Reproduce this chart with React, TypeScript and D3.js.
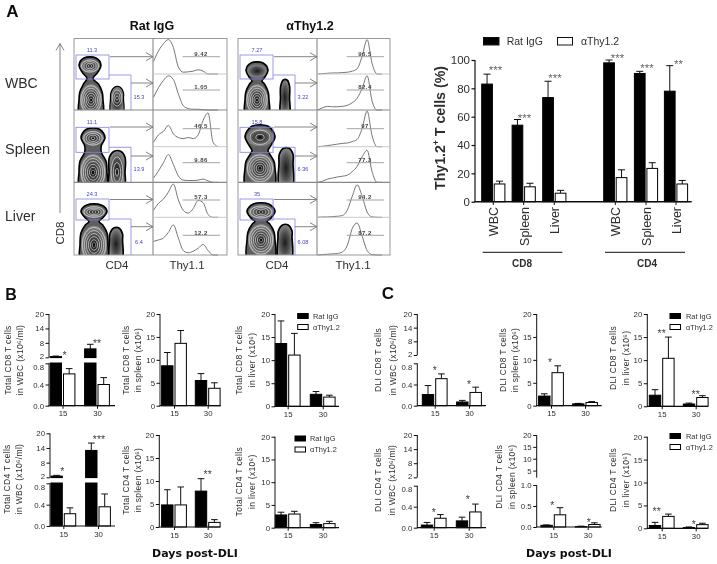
import React, { useEffect, useRef } from "react";
import * as d3 from "d3";

const FONT = "'Liberation Sans', Arial, sans-serif";
const INK = "#2e2e2e";

// ---------- data: panel A histograms (fraction of cell height, evenly spaced channels)
const histLeft = [
  [0.35, 0.65, 0.85, 0.97, 0.75, 0.2, 0.05, 0.06, 0.08, 0.12, 0.08, 0, 0, 0],
  [0.35, 0.62, 0.82, 0.95, 0.85, 0.45, 0.12, 0.04, 0.02, 0.02, 0.01, 0, 0, 0],
  [0.12, 0.32, 0.42, 0.58, 0.35, 0.25, 0.22, 0.25, 0.22, 0.32, 0.72, 0.92, 0.12, 0],
  [0.12, 0.32, 0.55, 0.78, 0.5, 0.18, 0.06, 0.05, 0.05, 0.06, 0.09, 0.04, 0, 0],
  [0.2, 0.4, 0.52, 0.72, 0.95, 0.5, 0.2, 0.12, 0.25, 0.48, 0.42, 0.08, 0, 0],
  [0.36, 0.4, 0.45, 0.6, 0.8, 0.45, 0.12, 0.06, 0.1, 0.18, 0.28, 0.12, 0, 0],
];
const histRight = [
  [0, 0.01, 0.02, 0.03, 0.03, 0.04, 0.05, 0.08, 0.15, 0.5, 0.97, 0.3, 0, 0],
  [0, 0.06, 0.1, 0.09, 0.09, 0.1, 0.13, 0.2, 0.33, 0.6, 0.95, 0.25, 0, 0],
  [0, 0.01, 0.03, 0.05, 0.07, 0.09, 0.1, 0.14, 0.2, 0.5, 0.97, 0.3, 0, 0],
  [0, 0.03, 0.09, 0.12, 0.15, 0.17, 0.2, 0.3, 0.45, 0.72, 0.9, 0.3, 0, 0],
  [0, 0.01, 0.01, 0.02, 0.03, 0.05, 0.2, 0.6, 0.93, 0.6, 0.15, 0.01, 0, 0],
  [0, 0.01, 0.02, 0.03, 0.04, 0.08, 0.25, 0.7, 0.85, 0.5, 0.12, 0.01, 0, 0],
];
const histLeftLabels = ["9.42", "1.05", "46.5", "9.86", "57.3", "12.2"];
const histRightLabels = ["96.5", "82.4", "97", "77.3", "94.2", "87.2"];
const gateLeftLabels = [["11.3", "15.3"], ["11.1", "13.9"], ["24.3", "6.4"]];
const gateRightLabels = [["7.27", "3.22"], ["15.8", "6.36"], ["35", "6.08"]];

// flow contour blobs, in plot channels: [cx, cy, rx, ry or top]
const blobTop = [
  [16, 44, 11, 8], [19, 44, 12, 9], [20, 43, 13, 7],
  [19, 39, 11, 8], [22, 45, 15, 11], [23, 43, 14, 8],
];
const blobNeck = [3, 8, 5, 5, 8, 6];
const blobBottom = [
  [17, 10, 12, 27], [19, 10, 14, 30], [20, 10, 14, 31],
  [19, 10, 12, 27], [22, 14, 15, 30], [23, 15, 14, 32],
];
const blobCd4 = [
  [43, 12, 6.5, 23], [43, 10, 8, 31], [42, 15, 6.5, 27],
  [47, 12, 4.5, 30], [48, 19, 7, 34], [47, 18, 7, 30],
];
const cd4Rings = [3, 3, 0, 0, 0, 0];
const topRings = [4, 4, 4, 0, 2, 4];
const gateCd8Y = [[31, 55], [30, 55], [35, 56]];
const gateCd4Top = [35, 35, 36];

// ---------- data: panel A bars
const aCats = ["WBC", "Spleen", "Liver", "WBC ", "Spleen ", "Liver "];
const aRat = [83, 54, 73.5, 98, 90.5, 78];
const aRatTop = [90, 58, 85, 100, 92, 96];
const aThy = [12.5, 10.5, 6, 17, 23.5, 12.5];
const aThyTop = [14.5, 13, 8, 22.5, 27.5, 15];
const aTicks = [0, 20, 40, 60, 80, 100];

// ---------- data: panels B, C bars [day 15, day 30]
const days = ["15", "30"];
const b1 = { rat: [2.3, 5.5], ratTop: [2.5, 7.4], thy: [0.6, 0.4], thyTop: [0.7, 0.53] };
const b2 = { rat: [8.7, 5.5], ratTop: [11.6, 7], thy: [13.6, 3.8], thyTop: [16.4, 5] };
const b3 = { rat: [13.6, 2.6], ratTop: [18.5, 3.2], thy: [11.1, 2.0], thyTop: [15.8, 2.4] };
const b4 = { rat: [2.5, 13], ratTop: [2.8, 16], thy: [0.23, 0.36], thyTop: [0.34, 0.6] };
const b5 = { rat: [4.8, 7.8], ratTop: [8.1, 10.5], thy: [4.8, 1.0], thyTop: [8.7, 1.6] };
const b6 = { rat: [2.8, 0.7], ratTop: [3.4, 1.1], thy: [3.0, 0.9], thyTop: [3.6, 1.4] };
const c1 = { rat: [0.21, 0.07], ratTop: [0.38, 0.1], thy: [0.51, 0.25], thyTop: [0.6, 0.35] };
const c2 = { rat: [2.1, 0.4], ratTop: [2.6, 0.5], thy: [7.2, 0.7], thyTop: [8.7, 0.9] };
const c3 = { rat: [2.4, 0.5], ratTop: [3.6, 0.7], thy: [10.4, 1.9], thyTop: [15, 2.3] };
const c4 = { rat: [0.05, 0.13], ratTop: [0.1, 0.2], thy: [0.18, 0.3], thyTop: [0.25, 0.45] };
const c5 = { rat: [0.04, 0.01], ratTop: [0.05, 0.02], thy: [0.29, 0.06], thyTop: [0.46, 0.1] };
const c6 = { rat: [0.6, 0.15], ratTop: [1.3, 0.3], thy: [2.6, 0.8], thyTop: [3.1, 1.1] };

const tick20 = [0, 5, 10, 15, 20];
const tickBrokenLow = [0, 0.4, 0.8];
const tickBrokenHigh = [2, 8, 14, 20];

// ---------- layouts (pixels)
const P = (o: any) => o;
const panels = [
  P({ d: b1, x0: 49, xEnd: 115, cs: [62.5, 97], y0: 405.7, yTop: 314, brk: [0.8, 363.3, 2, 357.3], low: tickBrokenLow, high: tickBrokenHigh, l1: "Total CD8 T cells", l2: "in WBC (x10⁶/ml)", lx: [7.5, 19.5], ly: 360, stars: [["*", 0, 2, 353], ["**", 1, 0, 341]] }),
  P({ d: b2, x0: 160, xEnd: 220.7, cs: [174, 207.7], y0: 405.7, yTop: 314, high: tick20, l1: "Total CD8 T cells", l2: "in spleen (x10⁶)", lx: [126, 138.3], ly: 360, stars: [] }),
  P({ d: b3, x0: 275, xEnd: 339, cs: [287.7, 322.7], y0: 406.3, yTop: 314, high: tick20, l1: "Total CD8 T cells", l2: "in liver (x10⁶)", lx: [239.3, 251.7], ly: 360, stars: [], leg: [297.7, 313.5, 313] }),
  P({ d: b4, x0: 50, xEnd: 115, cs: [63.3, 98], y0: 526, yTop: 433.3, brk: [0.8, 483.3, 2, 477.3], low: tickBrokenLow, high: tickBrokenHigh, l1: "Total CD4 T cells", l2: "in WBC (x10⁶/ml)", lx: [7.3, 19.3], ly: 479, stars: [["*", 0, -1, 469], ["***", 1, 1, 437]] }),
  P({ d: b5, x0: 159.3, xEnd: 220, cs: [174, 207.7], y0: 527, yTop: 435, high: tick20, l1: "Total CD4 T cells", l2: "in spleen (x10⁶)", lx: [126, 138.3], ly: 480, stars: [["**", 1, 0, 472]] }),
  P({ d: b6, x0: 275, xEnd: 339, cs: [287.7, 322.7], y0: 527.7, yTop: 436.7, high: tick20, l1: "Total CD4 T cells", l2: "in liver (x10⁶)", lx: [239.3, 251.7], ly: 481.7, stars: [], leg: [295, 436, 310] }),
  P({ d: c1, x0: 417.3, xEnd: 486, cs: [434.7, 469], y0: 405.7, yTop: 314, brk: [0.8, 363.3, 2, 355], low: tickBrokenLow, high: tickBrokenHigh, l1: "DLI CD8 T cells", l2: "in WBC (x10⁶/ml)", lx: [378.3, 393.3], ly: 360, stars: [["*", 0, 0, 368], ["*", 1, 0, 382]] }),
  P({ d: c2, x0: 536.7, xEnd: 601.7, cs: [551, 585], y0: 405.7, yTop: 314, high: tick20, l1: "DLI CD8 T cells", l2: "in spleen (x10⁶)", lx: [502.7, 515], ly: 360, stars: [["*", 0, -1, 360]] }),
  P({ d: c3, x0: 647.3, xEnd: 708, cs: [661.7, 695.7], y0: 406.3, yTop: 314, high: tick20, l1: "DLI CD8 T cells", l2: "in liver (x10⁶)", lx: [613.3, 625.7], ly: 358, stars: [["**", 0, 0, 331], ["**", 1, 0, 392]], leg: [670, 313.5, 686] }),
  P({ d: c4, x0: 417.3, xEnd: 486, cs: [433.7, 468.7], y0: 527.7, yTop: 435, brk: [0.8, 485.7, 2, 477.3], low: tickBrokenLow, high: tickBrokenHigh, l1: "DLI CD4 T cells", l2: "in WBC (x10⁶/ml)", lx: [378.3, 392], ly: 480, stars: [["*", 0, 0, 510], ["*", 1, -1, 497]] }),
  P({ d: c5, x0: 536.7, xEnd: 601.7, cs: [553.3, 587.7], y0: 527, yTop: 435, brk: [1, 485, 2, 477.7], low: [0, 0.5, 1], high: [5, 10, 15, 20], l1: "DLI CD4 T cells", l2: "in spleen (x10⁶)", lx: [499.3, 511.7], ly: 476.7, stars: [["*", 0, -1, 503], ["*", 1, 1, 520]] }),
  P({ d: c6, x0: 647.3, xEnd: 708, cs: [661.7, 695.7], y0: 528.3, yTop: 436.7, high: tick20, l1: "DLI CD4 T cells", l2: "in liver (x10⁶)", lx: [613.3, 625.7], ly: 480, stars: [["**", 0, -5, 509], ["*", 1, -2, 522]], leg: [670, 433.5, 686] }),
];

const BAR_W = 11.4;
const TICK_FS = 7.8;

function Star({ x, y, s, size = 10.5, color = "#444" }: any) {
  return (
    <text x={x} y={y + size * 0.57} textAnchor="middle" fontSize={size} fill={color} fontFamily={FONT}>
      {s}
    </text>
  );
}

function AxisLeft({ scale, ticks, fmt, size, color = INK, sw = 1, nudge = 0 }: any) {
  const ref = useRef<SVGGElement>(null);
  useEffect(() => {
    const g = d3.select(ref.current!);
    g.call(d3.axisLeft(scale).tickValues(ticks).tickSize(3.5).tickPadding(1.5).tickFormat((v: any) => (fmt ? d3.format(fmt)(v) : String(v))) as any);
    g.select(".domain").remove();
    g.selectAll("line").attr("stroke", "#111").attr("stroke-width", sw);
    g.selectAll("text").attr("font-size", size).attr("font-family", FONT).attr("fill", color);
    if (nudge) {
      // the two labels at an axis break sit very close: spread them a little
      g.selectAll<SVGTextElement, number>("text")
        .filter((_, i) => (nudge < 0 ? i === 0 : i === ticks.length - 1))
        .attr("y", nudge);
    }
  }, []);
  return <g ref={ref} />;
}

function AxisBottom({ scale, y, size }: any) {
  const ref = useRef<SVGGElement>(null);
  useEffect(() => {
    const g = d3.select(ref.current!);
    g.attr("transform", `translate(0,${y})`);
    g.call(d3.axisBottom(scale).tickSize(3).tickPadding(2) as any);
    g.select(".domain").remove();
    g.selectAll("line").attr("stroke", "#111");
    g.selectAll("text").attr("font-size", size).attr("font-family", FONT).attr("fill", INK);
  }, []);
  return <g ref={ref} />;
}

function BarPanel({ p }: any) {
  const broken = !!p.brk;
  const y = broken
    ? d3.scaleLinear().domain([0, p.brk[0], p.brk[2], 20]).range([p.y0, p.brk[1], p.brk[3], p.yTop])
    : d3.scaleLinear().domain([0, 20]).range([p.y0, p.yTop]);
  const x = d3.scalePoint().domain(days).range(p.cs);
  const W = BAR_W;
  const bars = days.flatMap((day, i) => [
    { cx: (x(day) as number) - W / 2 - 1, v: p.d.rat[i], top: p.d.ratTop[i], fill: "#000" },
    { cx: (x(day) as number) + W / 2 + 1, v: p.d.thy[i], top: p.d.thyTop[i], fill: "#fff" },
  ]);
  const labelProps: any = { textAnchor: "middle", dominantBaseline: "central", fontSize: 8.5, letterSpacing: 0.32, fill: INK, fontFamily: FONT };
  return (
    <g>
      <text transform={`translate(${p.lx[0]},${p.ly}) rotate(-90)`} {...labelProps}>{p.l1}</text>
      <text transform={`translate(${p.lx[1]},${p.ly}) rotate(-90)`} {...labelProps}>{p.l2}</text>
      {bars.map((b, i) => (
        <g key={i}>
          <line x1={b.cx} x2={b.cx} y1={y(b.v)} y2={y(b.top)} stroke="#111" strokeWidth={1} />
          <line x1={b.cx - 3.3} x2={b.cx + 3.3} y1={y(b.top)} y2={y(b.top)} stroke="#111" strokeWidth={1} />
          <rect x={b.cx - W / 2} width={W} y={y(b.v)} height={Math.max(0.5, p.y0 - y(b.v))} fill={b.fill} stroke="#000" strokeWidth={1} />
        </g>
      ))}
      {broken && <rect x={p.x0 - 1} width={p.xEnd - p.x0 + 2} y={p.brk[3] + 0.8} height={p.brk[1] - p.brk[3] - 1.6} fill="#fff" />}
      {broken ? (
        <g>
          <line x1={p.x0} x2={p.x0} y1={p.y0} y2={y(p.brk[0])} stroke="#111" />
          <line x1={p.x0} x2={p.x0} y1={y(p.brk[2])} y2={p.yTop} stroke="#111" />
          <g transform={`translate(${p.x0},0)`}>
            <AxisLeft scale={y} ticks={p.low} fmt={".1f"} size={TICK_FS} nudge={p.high[0] === 2 ? 3.4 : 0} />
            <AxisLeft scale={y} ticks={p.high} size={TICK_FS} nudge={p.high[0] === 2 ? -1.4 : 0} />
          </g>
        </g>
      ) : (
        <g>
          <line x1={p.x0} x2={p.x0} y1={p.y0} y2={p.yTop} stroke="#111" />
          <g transform={`translate(${p.x0},0)`}>
            <AxisLeft scale={y} ticks={p.high} size={TICK_FS} />
          </g>
        </g>
      )}
      <line x1={p.x0 - 0.5} x2={p.xEnd} y1={p.y0} y2={p.y0} stroke="#111" strokeWidth={1.2} />
      <AxisBottom scale={x} y={p.y0} size={TICK_FS} />
      {p.stars.map((s: any, i: number) => (
        <Star key={i} s={s[0]} x={(x(days[s[1]]) as number) + s[2]} y={s[3]} />
      ))}
      {p.leg && (
        <g>
          <rect x={p.leg[0]} y={p.leg[1]} width={10.5} height={5} fill="#000" stroke="#000" />
          <rect x={p.leg[0]} y={p.leg[1] + 11} width={10.5} height={5} fill="#fff" stroke="#000" />
          <text x={p.leg[2]} y={p.leg[1] + 2.5} dominantBaseline="central" fontSize={7.4} fill={INK} fontFamily={FONT}>Rat IgG</text>
          <text x={p.leg[2]} y={p.leg[1] + 13.5} dominantBaseline="central" fontSize={7.4} fill={INK} fontFamily={FONT}>αThy1.2</text>
        </g>
      )}
    </g>
  );
}

function BarsA() {
  const y = d3.scaleLinear().domain([0, 100]).range([201.7, 60]);
  const x = d3.scaleOrdinal<string, number>().domain(aCats).range([493.3, 523.7, 554.3, 615.3, 646, 676]);
  const W = 10.7;
  return (
    <g>
      <text transform="translate(440,128) rotate(-90)" textAnchor="middle" dominantBaseline="central" fontSize={14.2} fontWeight={700} fill={INK} fontFamily={FONT}>
        Thy1.2<tspan dy={-4} fontSize={8.5}>+</tspan><tspan dy={4}> T cells (%)</tspan>
      </text>
      {aCats.map((c, i) => {
        const cx = x(c);
        const bx1 = cx - W / 2 - 0.9;
        const bx2 = cx + W / 2 + 0.9;
        return (
          <g key={c}>
            <line x1={bx1} x2={bx1} y1={y(aRat[i])} y2={y(aRatTop[i])} stroke="#111" />
            <line x1={bx1 - 3.5} x2={bx1 + 3.5} y1={y(aRatTop[i])} y2={y(aRatTop[i])} stroke="#111" />
            <rect x={bx1 - W / 2} width={W} y={y(aRat[i])} height={y(0) - y(aRat[i])} fill="#000" stroke="#000" />
            <line x1={bx2} x2={bx2} y1={y(aThy[i])} y2={y(aThyTop[i])} stroke="#111" />
            <line x1={bx2 - 3.5} x2={bx2 + 3.5} y1={y(aThyTop[i])} y2={y(aThyTop[i])} stroke="#111" />
            <rect x={bx2 - W / 2} width={W} y={y(aThy[i])} height={y(0) - y(aThy[i])} fill="#fff" stroke="#000" />
            <text transform={`translate(${cx + 1},207) rotate(-90)`} textAnchor="end" dominantBaseline="central" fontSize={12.5} fill={INK} fontFamily={FONT}>{c.trim()}</text>
            <line x1={cx} x2={cx} y1={201.7} y2={205} stroke="#111" />
          </g>
        );
      })}
      {[["***", 495.5, 67.5], ["***", 524.5, 115], ["***", 555, 75], ["***", 617.5, 55], ["***", 647, 65.5], ["**", 678.5, 61]].map((s: any, i) => (
        <Star key={i} s={s[0]} x={s[1]} y={s[2]} size={11.5} color="#666" />
      ))}
      <line x1={475} x2={475} y1={201.7} y2={60} stroke="#111" strokeWidth={1.2} />
      <g transform="translate(475,0)">
        <AxisLeft scale={y} ticks={aTicks} size={11.5} sw={1.2} />
      </g>
      <line x1={474.4} x2={691.7} y1={201.7} y2={201.7} stroke="#111" strokeWidth={1.4} />
      <line x1={482.7} x2={562.3} y1={252.3} y2={252.3} stroke="#111" />
      <line x1={605} x2={685} y1={252.3} y2={252.3} stroke="#111" />
      <text x={522} y={263} textAnchor="middle" dominantBaseline="central" fontSize={10} fontWeight={700} fill={INK} fontFamily={FONT}>CD8</text>
      <text x={647} y={263} textAnchor="middle" dominantBaseline="central" fontSize={10} fontWeight={700} fill={INK} fontFamily={FONT}>CD4</text>
      <rect x={483.5} y={37.5} width={15.5} height={7.5} fill="#000" stroke="#111" />
      <text x={506.7} y={41.3} dominantBaseline="central" fontSize={10.5} fill={INK} fontFamily={FONT}>Rat IgG</text>
      <rect x={557.5} y={37.5} width={15} height={7.5} fill="#fff" stroke="#111" />
      <text x={581} y={41.3} dominantBaseline="central" fontSize={10.5} fill={INK} fontFamily={FONT}>αThy1.2</text>
    </g>
  );
}

function Arrow({ x1, x2, y1, y2 }: any) {
  const horiz = y1 === y2;
  return (
    <g stroke="#777" strokeWidth={0.9} fill="none">
      <line x1={x1} x2={x2} y1={y1} y2={y2} />
      {horiz ? (
        <path d={`M${x2 - 7},${y2 - 4}L${x2},${y2}L${x2 - 7},${y2 + 4}`} />
      ) : (
        <path d={`M${x2 - 4},${y2 + 7}L${x2},${y2}L${x2 + 4},${y2 + 7}`} />
      )}
    </g>
  );
}

function Rings({ x, y, cx, cy, rx, ry, n }: any) {
  const ks = d3.range(n).map((i) => 1 - (i + 0.6) / (n + 0.3));
  return (
    <g>
      {ks.map((k, i) => (
        <ellipse key={i} cx={x(cx)} cy={y(cy)} rx={rx * k} ry={ry * k} fill="none" stroke="#e8e8e8" strokeWidth={0.65} />
      ))}
      <ellipse cx={x(cx)} cy={y(cy)} rx={rx * 0.1} ry={ry * 0.1} fill="#111" />
    </g>
  );
}

function FlowBlock({ side }: { side: number }) {
  const blockX = side === 0 ? 74 : 238;
  const divX = side === 0 ? 153 : 317;
  const endX = side === 0 ? 227 : 390;
  const rowEdges = [38.5, 110, 182.3, 255];
  const histEdges = [38.5, 74, 110, 146.7, 182.3, 217.3, 255];
  const lineY = [56.7, 90, 128.7, 162.7, 200, 235.3];
  const arrowY = [56.7, 83, 127, 156, 199.5, 226.7];
  const hists = side === 0 ? histLeft : histRight;
  const histLabels = side === 0 ? histLeftLabels : histRightLabels;
  const gLabels = side === 0 ? gateLeftLabels : gateRightLabels;
  const ch = d3.range(14);
  return (
    <g>
      {[0, 1, 2].map((r) => {
        const b = r + side * 3;
        const x = d3.scaleLinear().domain([0, 80]).range([blockX, blockX + 80]);
        const y = d3.scaleLinear().domain([0, 72]).range([rowEdges[r + 1], rowEdges[r + 1] - 72]);
        const [tcx, tcy, trx, trY] = blobTop[b];
        const [bcx, bcy, brx, btop] = blobBottom[b];
        const [ccx, ccy, crx, ctop] = blobCd4[b];
        const neckY = (btop + (tcy - trY)) / 2;
        const nk = blobNeck[b];
        const sil: [number, number][] = [
          [bcx - brx * 0.95, -4], [bcx - brx, bcy], [bcx - brx * 0.93, btop - 9], [bcx - brx * 0.62, btop - 1],
          [tcx - nk, neckY], [tcx - trx * 0.7, tcy - trY * 0.8], [tcx - trx, tcy + 1], [tcx - trx * 0.55, tcy + trY], [tcx + trx * 0.55, tcy + trY], [tcx + trx, tcy + 1], [tcx + trx * 0.7, tcy - trY * 0.8],
          [tcx + nk, neckY], [bcx + brx * 0.62, btop - 1], [bcx + brx * 0.93, btop - 9], [bcx + brx, bcy], [bcx + brx * 0.95, -4],
        ];
        const silPath = d3.line<[number, number]>().x((d) => x(d[0])).y((d) => y(d[1])).curve(d3.curveCatmullRomClosed.alpha(0.5))(sil) as string;
        const cd4: [number, number][] = [
          [ccx - crx * 0.9, -4], [ccx - crx, ccy], [ccx - crx * 0.95, ctop - 6], [ccx - crx * 0.35, ctop], [ccx + crx * 0.45, ctop], [ccx + crx, ctop - 6], [ccx + crx, ccy], [ccx + crx * 0.9, -4],
        ];
        const cd4Path = d3.line<[number, number]>().x((d) => x(d[0])).y((d) => y(d[1])).curve(d3.curveCatmullRomClosed.alpha(0.5))(cd4) as string;
        const cid = `clip${b}`;
        const cd8Gate = gateCd8Y[r];
        return (
          <g key={r}>
            <clipPath id={cid}><rect x={blockX} y={rowEdges[r]} width={divX - blockX} height={rowEdges[r + 1] - rowEdges[r]} /></clipPath>
            <g clipPath={`url(#${cid})`}>
              <path d={silPath} fill="#5e5e5e" stroke="#000" strokeWidth={1.6} />
              <ellipse cx={x(tcx)} cy={y(tcy)} rx={trx * 0.88} ry={trY * 0.82} fill="url(#dark)" />
              <ellipse cx={x(bcx)} cy={y(bcy)} rx={brx * 0.92} ry={(btop - bcy) * 0.92} fill="url(#dark)" />
              <Rings x={x} y={y} cx={bcx} cy={bcy} rx={brx * 0.93} ry={(btop - bcy) * 0.93} n={6} />
              {topRings[b] > 0 && <Rings x={x} y={y} cx={tcx} cy={tcy} rx={trx * 0.9} ry={trY * 0.88} n={topRings[b]} />}
              <path d={cd4Path} fill="url(#dark)" stroke="#000" strokeWidth={side === 0 && r === 0 ? 1.2 : 1.7} />
              {cd4Rings[b] > 0 && <Rings x={x} y={y} cx={ccx} cy={ccy} rx={crx * 0.9} ry={(ctop - ccy) * 0.9} n={cd4Rings[b]} />}
            </g>
            <rect x={x(2)} width={x(35) - x(2)} y={y(cd8Gate[1])} height={y(cd8Gate[0]) - y(cd8Gate[1])} fill="none" stroke="#8080e4" strokeWidth={0.8} />
            <path d={`M${x(35)},${y(gateCd4Top[r])}H${x(57)}V${y(0)}`} fill="none" stroke="#8080e4" strokeWidth={0.8} />
            <text x={x(side === 0 ? 18 : 19)} y={y(cd8Gate[1] + 3.5)} textAnchor="middle" fontSize={5.6} fill="#4646c8" fontFamily={FONT}>{gLabels[r][0]}</text>
            <text x={x(65)} y={y(13.5)} textAnchor="middle" dominantBaseline="central" fontSize={5.6} fill="#4646c8" fontFamily={FONT}>{gLabels[r][1]}</text>
          </g>
        );
      })}
      {histEdges.slice(0, -1).map((top, i) => {
        const bottom = histEdges[i + 1];
        const x = d3.scaleLinear().domain([0, 13]).range([divX + 0.5, divX + 65]);
        const y = d3.scaleLinear().domain([0, 1]).range([bottom, top]);
        const path = d3.line<number>().x((_, k) => x(ch[k])).y((v) => y(v)).curve(d3.curveMonotoneX)(hists[i]) as string;
        return (
          <g key={i}>
            <path d={path} fill="none" stroke="#666" strokeWidth={0.9} />
            <line x1={divX + 29.7} x2={divX + 67} y1={lineY[i]} y2={lineY[i]} stroke="#999" strokeWidth={0.9} />
            <text x={divX + 48} y={lineY[i] - 0.6} textAnchor="middle" fontSize={6} letterSpacing={0.45} fontWeight={700} fill="#444" fontFamily={FONT}>{histLabels[i]}</text>
          </g>
        );
      })}
      <rect x={blockX} y={38.5} width={endX - blockX} height={216.5} fill="none" stroke="#999" strokeWidth={1} />
      <line x1={divX} x2={divX} y1={38.5} y2={255} stroke="#888" strokeWidth={1.1} />
      {[110, 182.3].map((v) => (<line key={v} x1={blockX} x2={endX} y1={v} y2={v} stroke="#888" strokeWidth={1.2} />))}
      {[74, 146.7, 217.3].map((v) => (<line key={v} x1={divX} x2={endX} y1={v} y2={v} stroke="#c4c4c4" strokeWidth={0.9} />))}
      {[0, 1, 2].map((r) => (
        <g key={r}>
          <Arrow x1={blockX + 36} x2={divX} y1={arrowY[r * 2]} y2={arrowY[r * 2]} />
          <Arrow x1={blockX + 57} x2={divX} y1={arrowY[r * 2 + 1]} y2={arrowY[r * 2 + 1]} />
        </g>
      ))}
    </g>
  );
}

function Txt({ x, y, s, size, weight = 400, anchor = "middle", family = FONT, rotate = 0, fill = INK }: any) {
  return (
    <text transform={`translate(${x},${y}) rotate(${rotate})`} textAnchor={anchor} dominantBaseline="central" fontSize={size} fontWeight={weight} fill={fill} fontFamily={family}>
      {s}
    </text>
  );
}

export default function App() {
  return (
    <svg width={717} height={564} viewBox="0 0 717 564" style={{ position: "absolute", left: 0, top: 0, display: "block", background: "#fff" }}>
      <defs>
        <filter id="soft" x="0" y="0" width="100%" height="100%">
          <feGaussianBlur stdDeviation="0.3" />
        </filter>
        <radialGradient id="dark">
          <stop offset="0%" stopColor="#1c1c1c" />
          <stop offset="55%" stopColor="#505050" />
          <stop offset="100%" stopColor="#8c8c8c" />
        </radialGradient>
      </defs>
      <rect width={717} height={564} fill="#fff" />
      <g filter="url(#soft)">
        <Txt x={12.5} y={11} s="A" size={17} weight={700} fill="#111" />
        <Txt x={11} y={294} s="B" size={16} weight={700} fill="#111" />
        <Txt x={388} y={293} s="C" size={17} weight={700} fill="#111" />

        <Txt x={152} y={26} s="Rat IgG" size={12.5} weight={700} fill="#111" />
        <Txt x={310} y={26} s="αThy1.2" size={12.5} weight={700} fill="#111" />
        <Txt x={5} y={83} s="WBC" size={14} anchor="start" />
        <Txt x={5} y={148.5} s="Spleen" size={14.5} anchor="start" />
        <Txt x={5} y={216} s="Liver" size={14} anchor="start" />
        <Arrow x1={60} x2={60} y1={213} y2={43.5} />
        <Txt x={60} y={233} s="CD8" size={11.5} rotate={-90} />
        <Txt x={117} y={264.5} s="CD4" size={11.5} />
        <Txt x={187} y={264.5} s="Thy1.1" size={11.5} />
        <Txt x={277} y={264.5} s="CD4" size={11.5} />
        <Txt x={353} y={264.5} s="Thy1.1" size={11.5} />

        <FlowBlock side={0} />
        <FlowBlock side={1} />
        <BarsA />
        {panels.map((p, i) => (
          <BarPanel key={i} p={p} />
        ))}
        <Txt x={195} y={553} s="Days post-DLI" size={11} weight={700} family="'DejaVu Sans', sans-serif" fill="#111" />
        <Txt x={569} y={553} s="Days post-DLI" size={11} weight={700} family="'DejaVu Sans', sans-serif" fill="#111" />
      </g>
    </svg>
  );
}
